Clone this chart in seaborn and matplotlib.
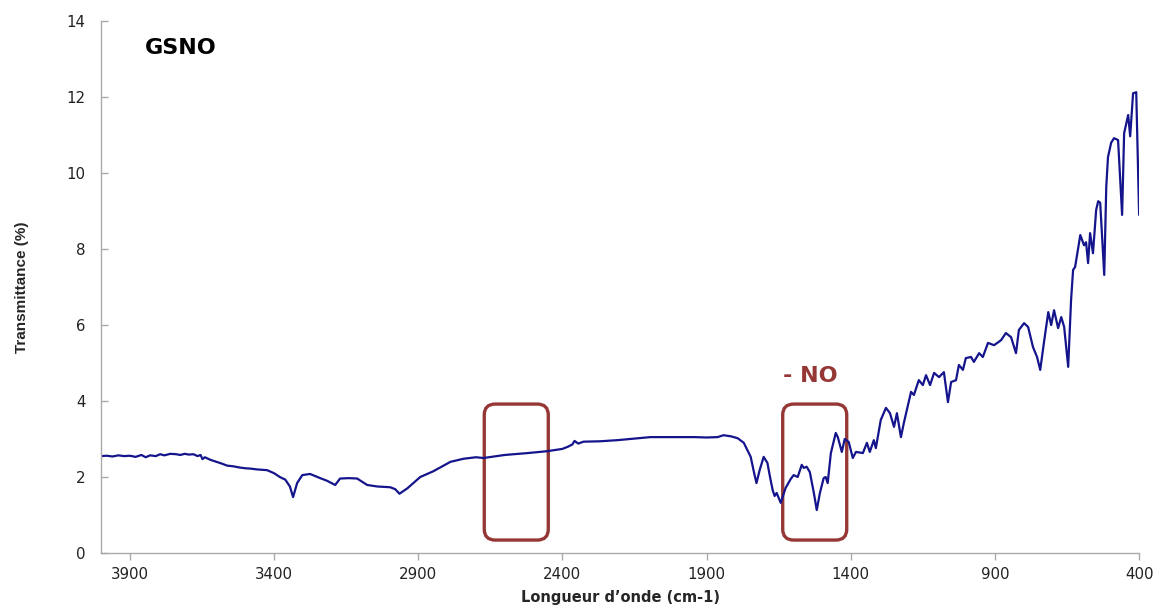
import pandas as pd
import matplotlib
matplotlib.use("Agg")
import matplotlib.pyplot as plt
from matplotlib.patches import FancyBboxPatch
import seaborn as sns

# IR spectrum of GSNO
wavenumber = [4000, 3980, 3960, 3940, 3920, 3900, 3880, 3860, 3845, 3830, 3810, 3795, 3780, 3760,
              3740, 3725, 3710, 3695, 3680, 3665, 3655, 3648, 3640, 3620, 3600, 3580, 3563, 3540,
              3520, 3500, 3480, 3460, 3440, 3424, 3400, 3380, 3361, 3345, 3334, 3320, 3302, 3275,
              3240, 3216, 3188, 3171, 3140, 3112, 3077, 3042, 2997, 2980, 2965, 2938, 2893, 2848,
              2788, 2743, 2700, 2674, 2600, 2520, 2452, 2400, 2380, 2365, 2358, 2345, 2327, 2270,
              2209, 2150, 2095, 2000, 1940, 1900, 1862, 1841, 1815, 1792, 1771, 1747, 1735, 1727,
              1716, 1702, 1689, 1680, 1671, 1664, 1657, 1650, 1643, 1626, 1608, 1598, 1584, 1570,
              1563, 1553, 1542, 1528, 1518, 1507, 1494, 1487, 1480, 1469, 1452, 1445, 1431, 1421,
              1407, 1393, 1382, 1358, 1344, 1334, 1320, 1313, 1296, 1278, 1264, 1250, 1240, 1226,
              1216, 1191, 1181, 1164, 1150, 1139, 1125, 1111, 1094, 1077, 1063, 1052, 1035, 1025,
              1011, 1001, 983, 973, 955, 942, 924, 903, 879, 862, 844, 827, 817, 799, 785, 768,
              754, 743, 729, 715, 705, 695, 681, 670, 660, 646, 636, 629, 622, 604, 591, 584, 577,
              570, 560, 549, 542, 535, 521, 514, 508, 497, 487, 473, 459, 452, 438, 431, 421, 410, 400]
transmittance = [2.55, 2.56, 2.54, 2.57, 2.55, 2.56, 2.53, 2.58, 2.52, 2.57, 2.55, 2.60, 2.57, 2.61,
                 2.60, 2.58, 2.61, 2.59, 2.60, 2.55, 2.58, 2.47, 2.52, 2.45, 2.40, 2.35, 2.30, 2.28,
                 2.25, 2.23, 2.22, 2.20, 2.19, 2.18, 2.10, 2.00, 1.93, 1.75, 1.47, 1.84, 2.05, 2.08,
                 1.97, 1.90, 1.79, 1.96, 1.97, 1.96, 1.79, 1.75, 1.73, 1.68, 1.56, 1.70, 2.00, 2.15,
                 2.40, 2.48, 2.52, 2.50, 2.58, 2.63, 2.68, 2.74, 2.80, 2.86, 2.95, 2.88, 2.93, 2.94,
                 2.97, 3.01, 3.05, 3.05, 3.05, 3.04, 3.05, 3.10, 3.07, 3.02, 2.90, 2.53, 2.10, 1.84,
                 2.18, 2.53, 2.37, 2.00, 1.66, 1.50, 1.58, 1.45, 1.32, 1.71, 1.95, 2.05, 2.00, 2.32,
                 2.24, 2.27, 2.13, 1.58, 1.13, 1.58, 1.97, 2.00, 1.84, 2.63, 3.16, 3.05, 2.66, 3.00,
                 2.92, 2.50, 2.66, 2.63, 2.90, 2.66, 2.97, 2.76, 3.50, 3.82, 3.68, 3.32, 3.68, 3.05,
                 3.42, 4.24, 4.16, 4.55, 4.42, 4.68, 4.42, 4.74, 4.63, 4.76, 3.97, 4.50, 4.55, 4.95,
                 4.82, 5.13, 5.16, 5.03, 5.26, 5.16, 5.53, 5.47, 5.60, 5.79, 5.68, 5.26, 5.87, 6.05,
                 5.95, 5.42, 5.16, 4.82, 5.60, 6.34, 6.00, 6.39, 5.92, 6.21, 5.95, 4.90, 6.66, 7.45,
                 7.53, 8.37, 8.10, 8.18, 7.63, 8.42, 7.89, 9.03, 9.26, 9.22, 7.32, 9.63, 10.42, 10.80,
                 10.92, 10.87, 8.90, 11.05, 11.53, 10.97, 12.10, 12.13, 8.90]

x_ticks = [3900, 3400, 2900, 2400, 1900, 1400, 900, 400]
y_ticks = [0, 2, 4, 6, 8, 10, 12, 14]

# highlighted regions (wavenumber start/end, transmittance low/high)
boxes = [(2449, 2671), (1414, 1636)]
box_y = (0.34, 3.92)

df = pd.DataFrame({"wn": wavenumber, "T": transmittance})

sns.set_theme(style="ticks")
plt.rcParams["font.family"] = ["DejaVu Sans"]

fig = plt.figure(figsize=(11.56, 6.05), dpi=100)
ax = fig.add_axes([0.0874, 0.086, 0.898, 0.879])

sns.lineplot(data=df, x="wn", y="T", ax=ax, color="#14148c", linewidth=1.6,
             estimator=None, sort=False)

ax.set_xlim(4000, 400)
ax.set_ylim(0, 14)
ax.set_xticks(x_ticks)
ax.set_yticks(y_ticks)
ax.tick_params(axis="both", labelsize=10.8, colors="#aaaaaa", labelcolor="#222222",
               length=5, width=1)
ax.tick_params(axis="y", direction="in", pad=11)
ax.tick_params(axis="x", direction="out", pad=5)
sns.despine(ax=ax)
for s in ["left", "bottom"]:
    ax.spines[s].set_color("#aaaaaa")
    ax.spines[s].set_linewidth(1)

ax.set_xlabel("Longueur d’onde (cm-1)", fontsize=10.5, fontweight="bold", labelpad=6)
ax.set_ylabel("Transmittance (%)", fontsize=11, fontweight="bold", labelpad=27,
              family="Liberation Sans")

red = "#953735"
for x0, x1 in boxes:
    patch = FancyBboxPatch((x0, box_y[0]), x1 - x0, box_y[1] - box_y[0],
                           boxstyle="round,pad=0,rounding_size=38",
                           mutation_aspect=0.0075, fill=False,
                           edgecolor=red, linewidth=2.4)
    ax.add_patch(patch)

ax.text(0.042, 0.949, "GSNO", transform=ax.transAxes, fontsize=16,
        fontweight="bold", color="black", va="center", ha="left")
ax.text(0.657, 0.333, "- NO", transform=ax.transAxes, fontsize=16,
        fontweight="bold", color=red, va="center", ha="left")

fig.savefig("out.png", dpi=100)
